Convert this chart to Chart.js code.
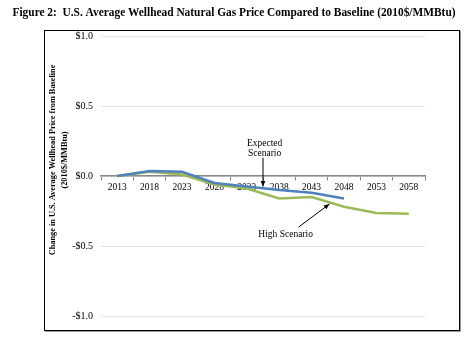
<!DOCTYPE html>
<html>
<head>
<meta charset="utf-8">
<script src="https://cdn.jsdelivr.net/npm/chart.js@4.4.1/dist/chart.umd.min.js"></script>
<style>
  html, body { margin: 0; padding: 0; background: #fff; }
  #wrap { width: 476px; height: 340px; }
</style>
</head>
<body>
<div id="wrap"><canvas id="chart" width="476" height="340"></canvas></div>
<script>
const years = ['2013', '2018', '2023', '2028', '2033', '2038', '2043', '2048', '2053', '2058']
const expected = [0, 0.035, 0.03, -0.05, -0.075, -0.10, -0.12, -0.16, null, null]
const high = [0, 0.03, 0.01, -0.06, -0.09, -0.16, -0.15, -0.22, -0.265, -0.27]
const yTicks = [-1, -0.5, 0, 0.5, 1]
const figTitle = 'Figure 2:  U.S. Average Wellhead Natural Gas Price Compared to Baseline (2010$/MMBtu)'
const yTitle = ['Change in U.S. Average Wellhead Price from Baseline', '(2010$/MMBtu)']

const serif = '"Liberation Serif", "DejaVu Serif", serif'

// callouts, in data units (category index, value)
const notes = [
  { lines: ['Expected', 'Scenario'], at: [4.55, 0.235], from: [4.5, 0.13], to: [4.5, -0.075] },
  { lines: ['High Scenario'], at: [5.2, -0.415], from: [5.6, -0.365], to: [6.55, -0.2] }
]

const frameAndNotes = {
  id: 'frameAndNotes',
  afterDraw(chart) {
    const c = chart.ctx
    const x = chart.scales.x, y = chart.scales.y
    c.save()
    // figure title (drawn here so the layout padding doesn't squeeze it)
    c.font = 'bold 12px ' + serif
    c.fillStyle = '#000'
    c.textAlign = 'center'
    c.textBaseline = 'middle'
    c.fillText(figTitle, 234, 13, 443)

    // outer frame
    c.strokeStyle = '#000'
    c.lineWidth = 1
    c.strokeRect(44.5, 30.5, 415, 300)
    c.strokeStyle = '#999'
    c.beginPath()
    c.moveTo(45, 331.5); c.lineTo(460.5, 331.5); c.lineTo(460.5, 31)
    c.stroke()

    // y axis title, sits a bit above the middle like the original
    c.save()
    c.translate(53, 160)
    c.rotate(-Math.PI / 2)
    c.font = 'bold 8.3px ' + serif
    c.fillStyle = '#000'
    c.textAlign = 'center'
    c.textBaseline = 'middle'
    yTitle.forEach((l, i) => c.fillText(l, 0, i * 12))
    c.restore()

    c.font = '9.5px ' + serif
    c.fillStyle = '#000'
    c.textAlign = 'center'
    c.textBaseline = 'middle'
    notes.forEach(n => {
      const tx = x.getPixelForValue(n.at[0]), ty = y.getPixelForValue(n.at[1])
      n.lines.forEach((l, i) => c.fillText(l, tx, ty + i * 10))
      const x1 = x.getPixelForValue(n.from[0]), y1 = y.getPixelForValue(n.from[1])
      const x2 = x.getPixelForValue(n.to[0]), y2 = y.getPixelForValue(n.to[1])
      c.strokeStyle = '#000'
      c.lineWidth = 1
      c.beginPath(); c.moveTo(x1, y1); c.lineTo(x2, y2); c.stroke()
      const a = Math.atan2(y2 - y1, x2 - x1)
      c.beginPath()
      c.moveTo(x2, y2)
      c.lineTo(x2 - 6 * Math.cos(a - 0.4), y2 - 6 * Math.sin(a - 0.4))
      c.lineTo(x2 - 6 * Math.cos(a + 0.4), y2 - 6 * Math.sin(a + 0.4))
      c.closePath(); c.fill()
    })
    c.restore()
  }
}

new Chart(document.getElementById('chart').getContext('2d'), {
  type: 'line',
  data: {
    labels: years,
    datasets: [{
      label: 'Expected Scenario',
      data: expected,
      borderColor: '#4f81bd',
      borderWidth: 2.5,
      pointRadius: 0,
      spanGaps: false
    }, {
      label: 'High Scenario',
      data: high,
      borderColor: '#9bbb59',
      borderWidth: 2.5,
      pointRadius: 0
    }]
  },
  options: {
    responsive: false,
    animation: false,
    layout: { padding: { left: 46, right: 51, top: 36, bottom: 24 } },
    plugins: {
      legend: { display: false },
      tooltip: { enabled: false },
      title: { display: false }
    },
    scales: {
      x: {
        position: { y: 0 },
        offset: true,
        grid: { drawOnChartArea: false, offset: true, tickLength: 4, color: '#888' },
        border: { color: '#888', width: 1.5 },
        ticks: { color: '#000', font: { family: serif, size: 9.5 }, padding: 2, maxRotation: 0, autoSkip: false }
      },
      y: {
        min: -1,
        max: 1,
        afterBuildTicks: s => { s.ticks = yTicks.map(v => ({ value: v })) },
        afterFit: s => { s.width = 55 },
        grid: { color: '#e4e4e4', drawTicks: false },
        border: { display: false },
        ticks: {
          color: '#000',
          padding: 8,
          font: { family: serif, size: 10 },
          callback: v => (v < 0 ? '-$' : '$') + Math.abs(v).toFixed(1)
        }
      }
    }
  },
  plugins: [frameAndNotes]
})
</script>
</body>
</html>
